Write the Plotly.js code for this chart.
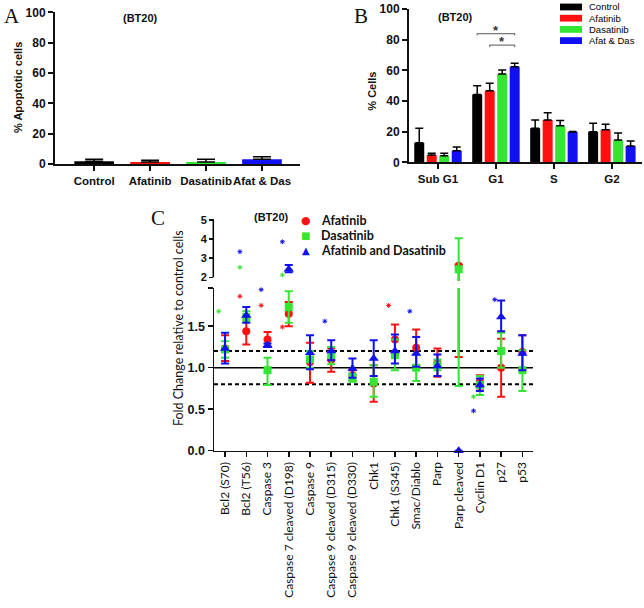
<!DOCTYPE html>
<html><head><meta charset="utf-8">
<script src="https://cdn.plot.ly/plotly-3.0.1.min.js"></script>
<style>html,body{margin:0;padding:0;background:#fff}</style>
</head><body><div id="chart" style="width:644px;height:608px"></div>
<script>
// ---------- Panel A : % apoptotic cells ----------
const aCategories = ['Control', 'Afatinib', 'Dasatinib', 'Afat & Das'];
const aValues = [1.8, 1.3, 1.3, 3.1];
const aErrors = [1.3, 1.1, 1.8, 1.7];

// ---------- Panel B : cell cycle ----------
const bPhases = ['Sub G1', 'G1', 'S', 'G2'];
const bSeries = ['Control', 'Afatinib', 'Dasatinib', 'Afat & Das'];
const bControl = [12.8, 44.3, 22.2, 20.0];
const bControlErr = [9.4, 5.7, 5.4, 5.4];
const bAfatinib = [4.8, 46.7, 27.6, 21.3];
const bAfatinibErr = [1.1, 4.8, 4.8, 3.5];
const bDasatinib = [4.3, 57.6, 23.9, 14.6];
const bDasatinibErr = [1.6, 2.6, 3.3, 4.5];
const bAfatDas = [7.6, 62.4, 19.8, 10.7];
const bAfatDasErr = [2.4, 2.2, 0.3, 3.2];
// significance brackets (phase index, from series, to series, bracket level)
const sigPhase = [1, 1];
const sigFrom = [0, 1];
const sigTo = [3, 3];
const sigLevel = [84, 76.5];

// ---------- Panel C : fold change ----------
const cCategories = ['Bcl2 (S70)', 'Bcl2 (T56)', 'Caspase 3', 'Caspase 7 cleaved (D198)', 'Caspase 9',
  'Caspase 9 cleaved (D315)', 'Caspase 9 cleaved (D330)', 'Chk1', 'Chk1 (S345)', 'Smac/Diablo',
  'Parp', 'Parp cleaved', 'Cyclin D1', 'p27', 'p53'];
const cSeries = ['Afatinib', 'Dasatinib', 'Afatinib and Dasatinib'];
const cAfatinib =      [1.23, 1.44, 1.34, 1.65, 1.07, 1.10, 0.91, 0.81, 1.34, 1.24, 1.06, 2.60, 0.83, 1.00, 1.19];
const cAfatinibPlus =  [0.16, 0.17, 0.09, 0.14, 0.23, 0.13, 0.06, 0.22, 0.18, 0.22, 0.17, 0.05, 0.08, 0.35, 0.20];
const cAfatinibMinus = [0.15, 0.16, 0.09, 0.15, 0.25, 0.15, 0.07, 0.22, 0.18, 0.22, 0.17, 1.47, 0.08, 0.35, 0.20];
const cDasatinib =      [1.22, 1.61, 0.97, 1.73, 1.10, 1.15, 0.88, 0.83, 1.15, 1.00, 1.03, 2.42, 0.79, 1.20, 0.97];
const cDasatinibPlus =  [0.10, 0.07, 0.15, 0.19, 0.10, 0.10, 0.05, 0.20, 0.19, 0.16, 0.07, 1.62, 0.11, 0.22, 0.24];
const cDasatinibMinus = [0.10, 0.06, 0.18, 0.19, 0.10, 0.11, 0.05, 0.18, 0.18, 0.16, 0.06, 1.64, 0.12, 0.20, 0.25];
const cAfatDas =      [1.23, 1.63, 1.27, 2.42, 1.18, 1.20, 0.99, 1.11, 1.20, 1.17, 1.02, 0.00, 0.79, 1.61, 1.17];
const cAfatDasPlus =  [0.19, 0.10, 0.02, 0.22, 0.21, 0.13, 0.12, 0.22, 0.20, 0.20, 0.14, 0.00, 0.08, 0.20, 0.22];
const cAfatDasMinus = [0.18, 0.09, 0.02, 0.16, 0.20, 0.11, 0.11, 0.21, 0.15, 0.16, 0.12, 0.00, 0.07, 0.17, 0.20];
// significance asterisks
const starCategory = [0, 1, 1, 1, 2, 2, 3, 3, 3, 5, 8, 9, 12, 12, 13];
const starValue =    [1.68, 3.34, 2.52, 1.86, 1.94, 1.75, 3.86, 2.12, 1.49, 1.56, 1.75, 1.68, 0.65, 0.48, 1.82];
const starSeries =   [1, 2, 1, 0, 2, 0, 2, 1, 0, 2, 0, 2, 1, 2, 2];
const refLines = [1.0, 1.2, 0.8];

// ---------- styling ----------
const W = 644, H = 608;
const fx = p => p / W;
const fy = p => 1 - p / H;
const barColors = ['#000000', '#ff1010', '#33e633', '#1010f0'];
const cColors = ['#ff1010', '#33e633', '#1010f0'];
const cSymbols = ['circle', 'square', 'triangle-up'];
const cSizes = [8, 8, 9];
const ARIAL = 'Liberation Sans, Arial, sans-serif';
const CALIBRI = 'Lato, Noto Sans, sans-serif';
const LOWER_RANGE = [0, 1.96];
const UPPER_RANGE = [1.8, 5.05];
const BARGAP = 0.138, BARGROUPGAP = 0.2;

const traces = [];

// Panel A bars
traces.push({
  type: 'bar', x: aCategories.map((_, i) => i), y: aValues, xaxis: 'x', yaxis: 'y',
  width: 0.71, marker: {color: barColors, line: {width: 0}},
  error_y: {type: 'data', symmetric: false, array: aErrors, arrayminus: aErrors.map(() => 0),
    color: '#000', thickness: 1.5, width: 9},
  showlegend: false, hoverinfo: 'skip'
});

// Panel B bars
const bVals = [bControl, bAfatinib, bDasatinib, bAfatDas];
const bErrs = [bControlErr, bAfatinibErr, bDasatinibErr, bAfatDasErr];
bSeries.forEach((name, s) => {
  traces.push({
    type: 'bar', name: name, x: bPhases.map((_, i) => i), y: bVals[s], xaxis: 'x2', yaxis: 'y2',
    marker: {color: barColors[s], line: {width: 0}},
    error_y: {type: 'data', symmetric: false, array: bErrs[s], arrayminus: bErrs[s].map(() => 0),
      color: '#000', thickness: 1.5, width: 4},
    showlegend: false, hoverinfo: 'skip'
  });
});

// Panel C points with error bars (lower and upper segment of broken axis)
const cVals = [cAfatinib, cDasatinib, cAfatDas];
const cPlus = [cAfatinibPlus, cDasatinibPlus, cAfatDasPlus];
const cMinus = [cAfatinibMinus, cDasatinibMinus, cAfatDasMinus];
const cIdx = cCategories.map((_, i) => i);
[['y3', v => v], ['y4', v => (v >= 2 ? v : null)]].forEach(([yax, pick]) => {
  cSeries.forEach((name, s) => {
    traces.push({
      type: 'scatter', mode: 'markers', x: cIdx, y: cVals[s].map(pick), xaxis: 'x3', yaxis: yax,
      marker: {size: 2, opacity: 0},
      error_y: {type: 'data', symmetric: false, array: cPlus[s], arrayminus: cMinus[s],
        color: cColors[s], thickness: 2, width: 4},
      showlegend: false, hoverinfo: 'skip'
    });
    traces.push({
      type: 'scatter', mode: 'markers', name: name, x: cIdx, y: cVals[s].map(pick), xaxis: 'x3', yaxis: yax,
      marker: {symbol: cSymbols[s], size: cSizes[s], color: cColors[s]},
      cliponaxis: false, showlegend: false, hoverinfo: 'skip'
    });
  });
});

// Asterisks
[['y3', v => v <= LOWER_RANGE[1]], ['y4', v => v > LOWER_RANGE[1]]].forEach(([yax, test]) => {
  const keep = starValue.map((v, i) => i).filter(i => test(starValue[i]));
  traces.push({
    type: 'scatter', mode: 'markers', xaxis: 'x3', yaxis: yax,
    x: keep.map(i => starCategory[i] - 0.3), y: keep.map(i => starValue[i]),
    marker: {symbol: 'asterisk-open', size: 4, color: keep.map(i => cColors[starSeries[i]]), line: {width: 1}},
    cliponaxis: false, showlegend: false, hoverinfo: 'skip'
  });
});

// ---------- shapes & annotations ----------
const shapes = [];
const annotations = [];
const note = (x, y, text, font, extra) => annotations.push(Object.assign({
  xref: 'paper', yref: 'paper', x: fx(x), y: fy(y), xanchor: 'center', yanchor: 'middle',
  text: text, showarrow: false, font: font}, extra || {}));

// B significance brackets
const slot = (1 - BARGAP) / bSeries.length;
const barCenter = (phase, s) => phase - (1 - BARGAP) / 2 + slot * (s + 0.5);
sigPhase.forEach((p, k) => {
  const x0 = barCenter(p, sigFrom[k]), x1 = barCenter(p, sigTo[k]), y = sigLevel[k];
  shapes.push({type: 'path', xref: 'x2', yref: 'y2',
    path: `M${x0},${y - 1.3} L${x0},${y} L${x1},${y} L${x1},${y - 1.3}`,
    line: {color: '#777', width: 1.2}});
  annotations.push({xref: 'x2', yref: 'y2', x: (x0 + x1) / 2, y: y + 2.2, xanchor: 'center', yanchor: 'middle',
    text: '*', showarrow: false, font: {family: ARIAL, size: 13, color: '#333', weight: 'bold'}});
});

// B legend
bSeries.forEach((name, s) => {
  const yc = 7 + 11.2 * s;
  shapes.push({type: 'rect', xref: 'paper', yref: 'paper', x0: fx(560), x1: fx(582), y0: fy(yc + 3.4), y1: fy(yc - 3.4),
    fillcolor: barColors[s], line: {width: 0}});
  note(587, yc, name, {family: ARIAL, size: 9.5, color: '#000'}, {xanchor: 'left'});
});

// C reference lines
refLines.forEach((v, k) => {
  shapes.push({type: 'line', xref: 'x3 domain', yref: 'y3', x0: 0, x1: 1, y0: v, y1: v, layer: 'below',
    line: {color: '#000', width: k === 0 ? 1.5 : 2, dash: k === 0 ? 'solid' : '4px,3px'}});
});
// upper segment axis line of the broken axis
shapes.push({type: 'line', xref: 'paper', yref: 'y4', x0: fx(213.3), x1: fx(213.3), y0: 2, y1: UPPER_RANGE[1],
  line: {color: '#000', width: 1.5}});

// C legend
const legSym = ['\u25CF', '\u25A0', '\u25B2'];
const legSymSize = [11, 10, 10];
cSeries.forEach((name, s) => {
  const yc = 220 + 15.4 * s;
  note(305.7, yc, legSym[s], {family: 'DejaVu Sans', size: legSymSize[s], color: cColors[s]});
  note(319, yc, name, {family: CALIBRI, size: 12.5, color: '#111', weight: 'bold'}, {xanchor: 'left'});
});

// axis titles
note(178, 328, 'Fold Change relative to control cells', {family: CALIBRI, size: 12.5, color: '#111'}, {textangle: -90});
note(18, 88, '% Apoptotic cells', {family: ARIAL, size: 11, color: '#111', weight: 'bold'}, {textangle: -90});
note(371.7, 91, '% Cells', {family: ARIAL, size: 11, color: '#111', weight: 'bold'}, {textangle: -90});

// panel letters and cell-line labels
[['A', 12.5, 16], ['B', 361, 16], ['C', 158, 218]].forEach(([t, x, y]) => {
  note(x, y, t, {family: 'Liberation Serif, Times New Roman, serif', size: 21, color: '#111'});
});
[[140, 18], [455, 17], [271.5, 216.5]].forEach(([x, y]) => {
  note(x, y, '(BT20)', {family: ARIAL, size: 11, color: '#111', weight: 'bold'});
});

// ---------- axes ----------
const boldTick = size => ({family: ARIAL, size: size, color: '#111', weight: 'bold'});
const axisBase = {showgrid: false, zeroline: false, showline: true, linecolor: '#111', ticks: 'outside',
  tickcolor: '#111', fixedrange: true};

const layout = {
  width: W, height: H, margin: {l: 0, r: 0, t: 0, b: 0}, paper_bgcolor: '#fff', plot_bgcolor: 'rgba(0,0,0,0)',
  showlegend: false, barmode: 'group', bargap: BARGAP, bargroupgap: BARGROUPGAP,
  xaxis: Object.assign({}, axisBase, {domain: [fx(55), fx(300)], range: [-0.7, 3.68], anchor: 'y',
    tickvals: aCategories.map((_, i) => i), ticktext: aCategories, tickangle: 0, linewidth: 2, tickwidth: 2, ticklen: 5,
    tickfont: boldTick(11.5)}),
  yaxis: Object.assign({}, axisBase, {domain: [fy(164), fy(12.3)], range: [0, 100], anchor: 'x', dtick: 20,
    linewidth: 2, tickwidth: 2, ticklen: 5, tickfont: boldTick(12)}),
  xaxis2: Object.assign({}, axisBase, {domain: [fx(409), fx(642)], range: [-0.5, 3.52], anchor: 'y2',
    tickvals: bPhases.map((_, i) => i), ticktext: bPhases, tickangle: 0, linewidth: 2, tickwidth: 2, ticklen: 5,
    tickfont: boldTick(11.5)}),
  yaxis2: Object.assign({}, axisBase, {domain: [fy(162.3), fy(9)], range: [0, 100], anchor: 'x2', dtick: 20,
    linewidth: 2, tickwidth: 2, ticklen: 5, tickfont: boldTick(12)}),
  xaxis3: Object.assign({}, axisBase, {domain: [fx(214), fx(533)], range: [-0.52, 14.5], anchor: 'y3',
    tickvals: cIdx, ticktext: cCategories, tickangle: -90, linewidth: 1.5, tickwidth: 1.5, ticklen: 5,
    tickfont: {family: CALIBRI, size: 12, color: '#111'}}),
  yaxis3: Object.assign({}, axisBase, {domain: [fy(450.7), fy(288)], range: LOWER_RANGE, anchor: 'x3',
    tickvals: [0, 0.5, 1, 1.5, LOWER_RANGE[1]], ticktext: ['0.0', '0.5', '1.0', '1.5', ''],
    linewidth: 1.5, tickwidth: 1.5, ticklen: 5, tickfont: boldTick(12.5)}),
  yaxis4: Object.assign({}, axisBase, {domain: [fy(281.1), fy(219.05)], range: UPPER_RANGE, anchor: 'x3',
    showline: false, tickvals: [2, 3, 4, 5], tickwidth: 1.5, ticklen: 4, tickfont: boldTick(11)}),
  shapes: shapes,
  annotations: annotations
};

Plotly.newPlot('chart', traces, layout, {staticPlot: true, displayModeBar: false});
</script>
</body></html>
